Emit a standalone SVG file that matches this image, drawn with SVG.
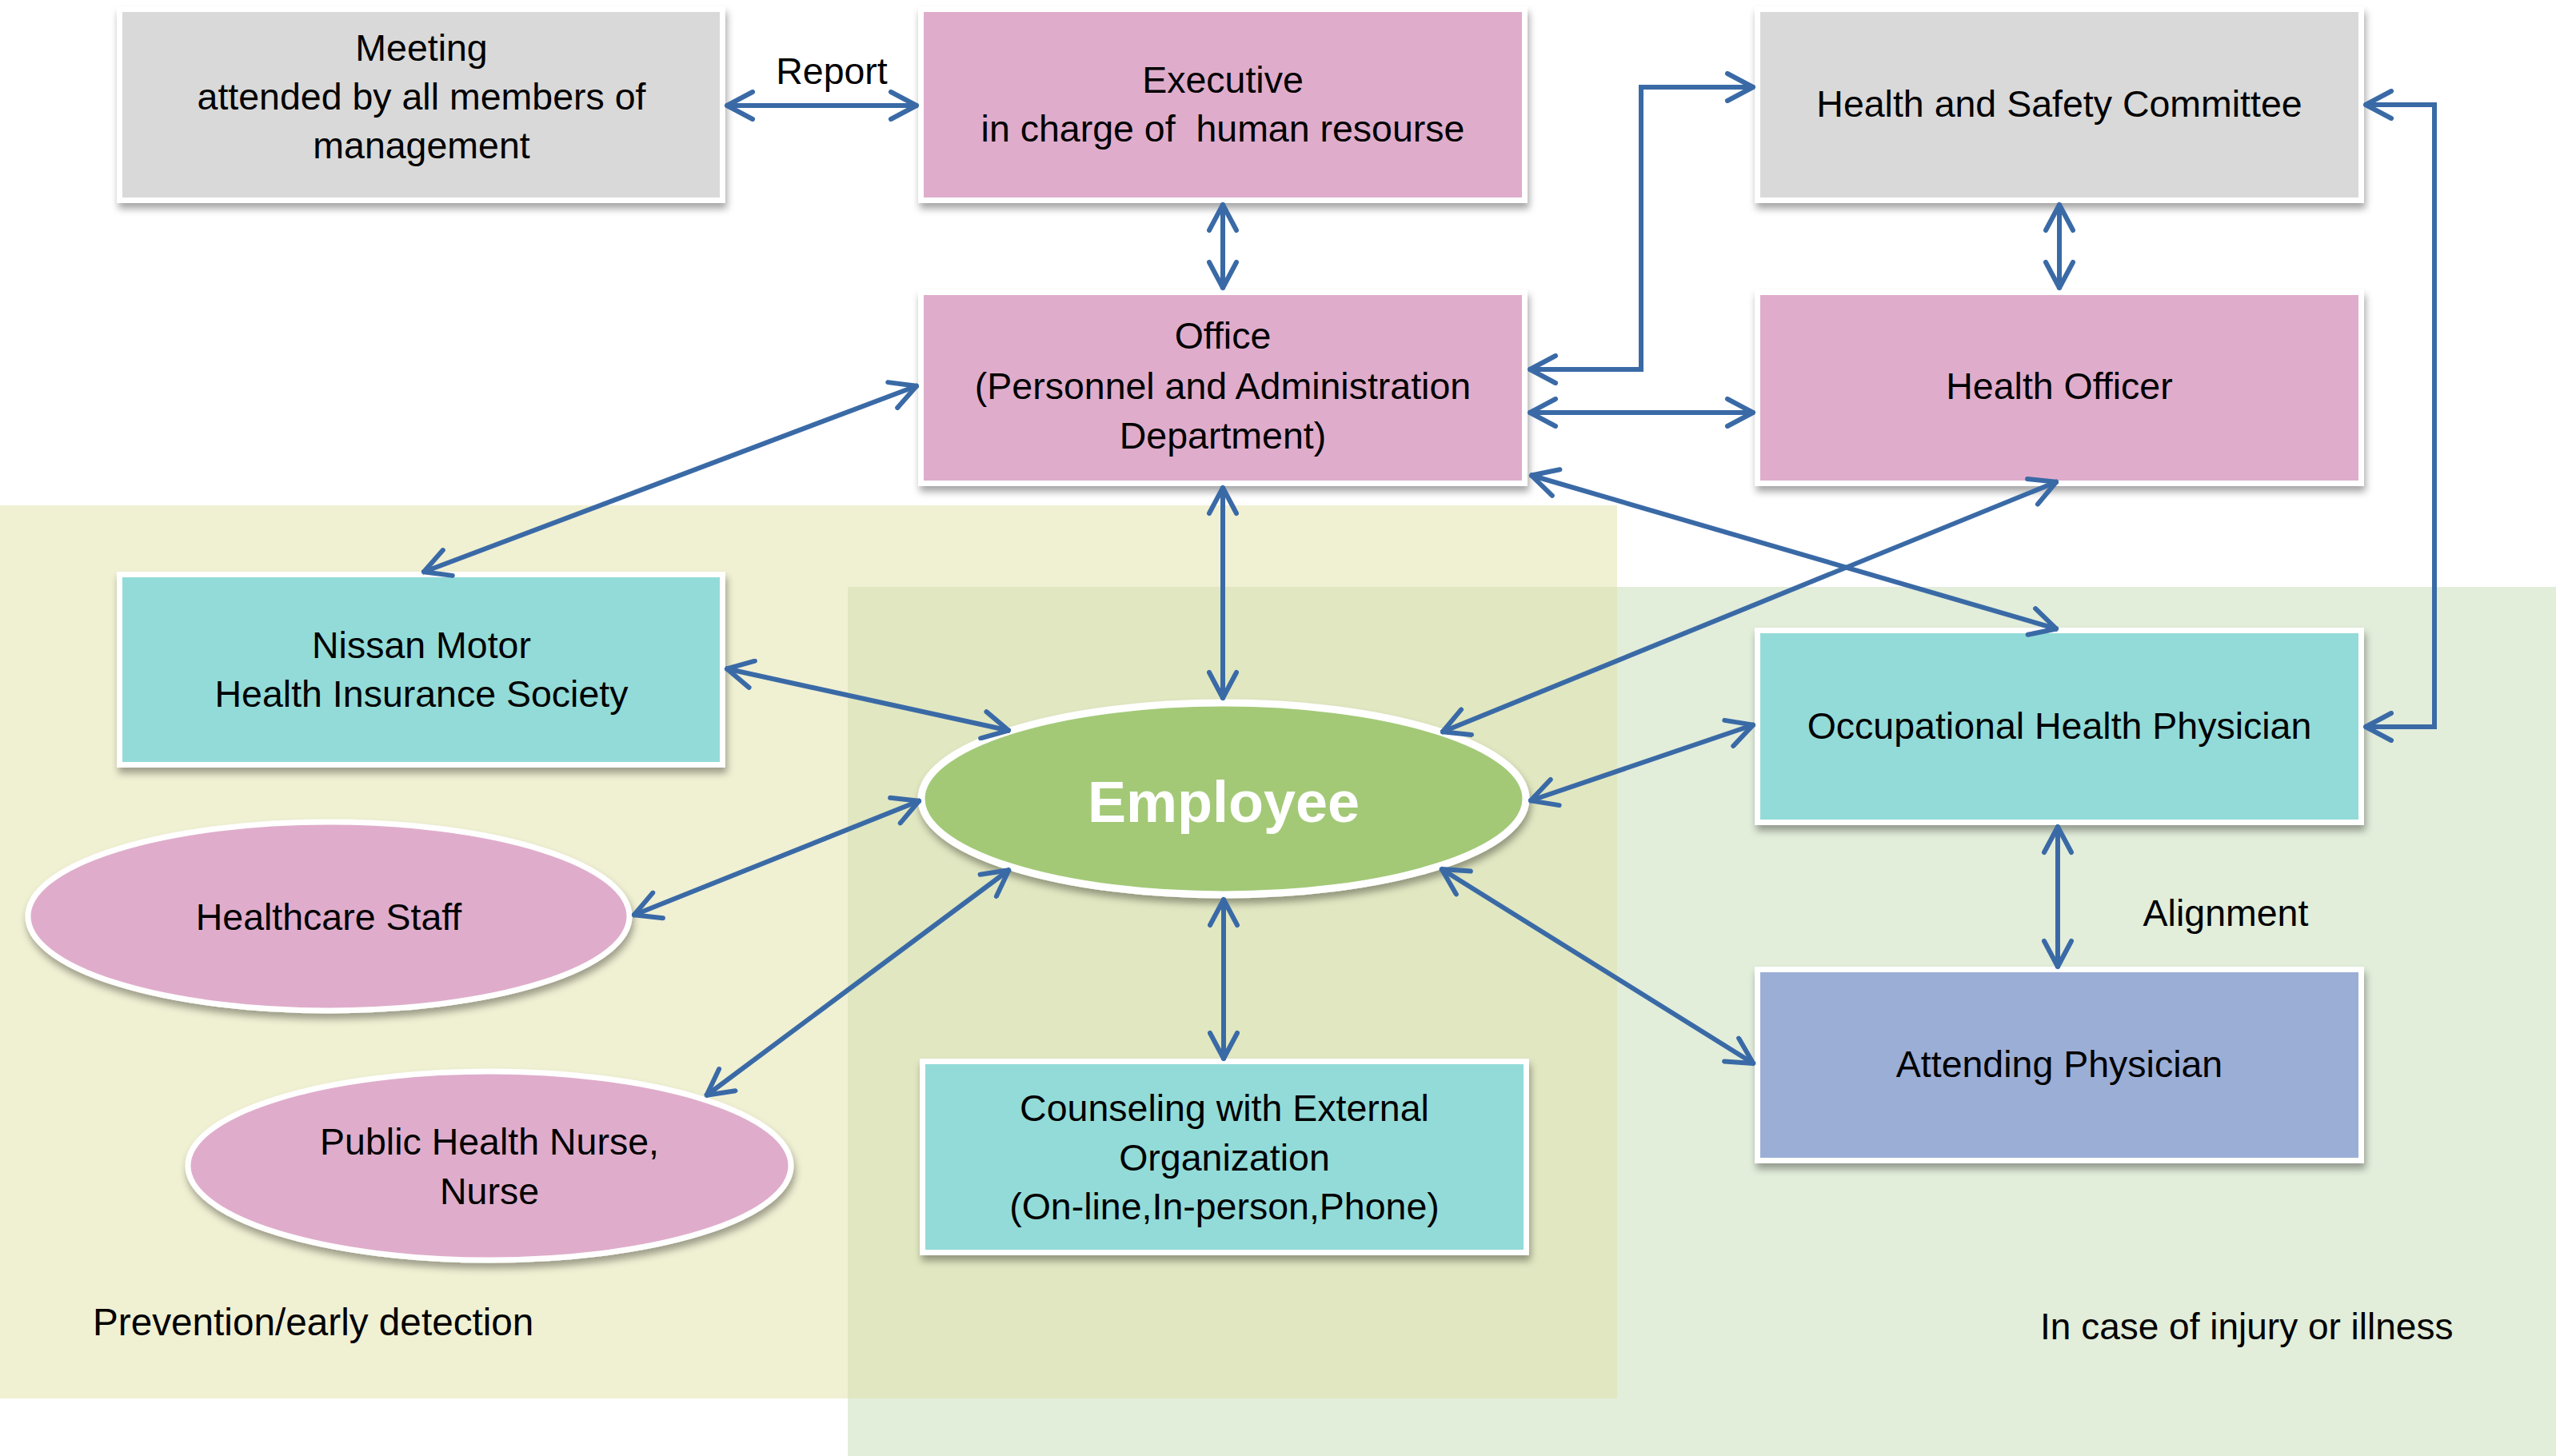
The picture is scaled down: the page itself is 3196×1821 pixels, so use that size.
<svg xmlns="http://www.w3.org/2000/svg" width="3196" height="1821" viewBox="0 0 3196 1821">
<style>
.t{font-family:"Liberation Sans",Arial,sans-serif;font-size:46.5px;fill:#000;text-anchor:middle}
.tl{font-family:"Liberation Sans",Arial,sans-serif;fill:#000}
.box{stroke:#fff;stroke-width:7}
.pink{fill:#DFADCB}
.grey{fill:#D9D9D9}
.cyan{fill:#93DBD8}
.blue{fill:#9BAED6}
.con{fill:none;stroke:#3A6AA6;stroke-width:6;stroke-linejoin:miter;marker-start:url(#ah);marker-end:url(#ah)}
</style>
<defs>
<filter id="sh" x="-10%" y="-10%" width="120%" height="130%">
<feDropShadow dx="2" dy="7" stdDeviation="5" flood-color="#000" flood-opacity="0.35"/>
</filter>
<marker id="ah" viewBox="0 0 40 40" markerWidth="40" markerHeight="40" refX="38" refY="20" orient="auto-start-reverse" markerUnits="userSpaceOnUse">
<path d="M4,3 L36,20 L4,37" fill="none" stroke="#3A6AA6" stroke-width="6" stroke-linecap="round" stroke-linejoin="round"/>
</marker>
</defs>
<rect x="0" y="0" width="3196" height="1821" fill="#fff"/>
<g id="regions">
<rect x="0" y="632" width="2022" height="1117" fill="#F0F0D3"/>
<rect x="1060" y="734" width="2136" height="1087" fill="#E2EDDA"/>
<rect x="1060" y="734" width="962" height="1015" fill="#E1E7C1"/>
<text class="tl" x="116" y="1670" style="font-size:47.7px">Prevention/early detection</text>
<text class="tl" x="2551" y="1675" style="font-size:46px">In case of injury or illness</text>
</g>
<g id="meeting">
<rect class="box grey" x="149.5" y="11.5" width="754" height="239" filter="url(#sh)"/>
<text class="t" x="527" y="76">Meeting</text>
<text class="t" x="527" y="137">attended by all members of</text>
<text class="t" x="527" y="198">management</text>
</g>
<g id="executive">
<rect class="box pink" x="1151.5" y="11.5" width="755" height="239" filter="url(#sh)"/>
<text class="t" x="1529" y="116">Executive</text>
<text class="t" x="1529" y="177" xml:space="preserve">in charge of  human resourse</text>
</g>
<g id="hsc">
<rect class="box grey" x="2197.5" y="11.5" width="755" height="239" filter="url(#sh)"/>
<text class="t" x="2575" y="146">Health and Safety Committee</text>
</g>
<g id="office">
<rect class="box pink" x="1151.5" y="365.5" width="755" height="239" filter="url(#sh)"/>
<text class="t" x="1529" y="436">Office</text>
<text class="t" x="1529" y="499">(Personnel and Administration</text>
<text class="t" x="1529" y="561">Department)</text>
</g>
<g id="healthofficer">
<rect class="box pink" x="2197.5" y="365.5" width="755" height="239" filter="url(#sh)"/>
<text class="t" x="2575" y="499">Health Officer</text>
</g>
<g id="nissan">
<rect class="box cyan" x="149.5" y="718.5" width="754" height="238" filter="url(#sh)"/>
<text class="t" x="527" y="823">Nissan Motor</text>
<text class="t" x="527" y="884">Health Insurance Society</text>
</g>
<g id="healthcare">
<ellipse class="box pink" cx="411" cy="1146" rx="376" ry="118" filter="url(#sh)"/>
<text class="t" x="411" y="1163">Healthcare Staff</text>
</g>
<g id="nurse">
<ellipse class="box pink" cx="612" cy="1458" rx="377" ry="118" filter="url(#sh)"/>
<text class="t" x="612" y="1444">Public Health Nurse,</text>
<text class="t" x="612" y="1506">Nurse</text>
</g>
<g id="employee">
<ellipse cx="1530" cy="999" rx="378" ry="120" fill="#A3C977" stroke="#fff" stroke-width="9" filter="url(#sh)"/>
<text x="1530" y="1028" text-anchor="middle" font-family="Liberation Sans,Arial,sans-serif" font-size="72" font-weight="bold" fill="#fff">Employee</text>
</g>
<g id="counseling">
<rect class="box cyan" x="1153.5" y="1327.5" width="755" height="239" filter="url(#sh)"/>
<text class="t" x="1531" y="1402">Counseling with External</text>
<text class="t" x="1531" y="1464">Organization</text>
<text class="t" x="1531" y="1525">(On-line,In-person,Phone)</text>
</g>
<g id="ohp">
<rect class="box cyan" x="2197.5" y="788.5" width="755" height="240" filter="url(#sh)"/>
<text class="t" x="2575" y="924">Occupational Health Physician</text>
</g>
<g id="attending">
<rect class="box blue" x="2197.5" y="1212.5" width="755" height="239" filter="url(#sh)"/>
<text class="t" x="2575" y="1347">Attending Physician</text>
</g>
<g id="connectors">
<path class="con" d="M907,132 L1148,132"/>
<path class="con" d="M1529,254 L1529,362"/>
<path class="con" d="M1911,462 L2052,462 L2052,109 L2194,109"/>
<path class="con" d="M1911,516 L2194,516"/>
<path class="con" d="M2575,254 L2575,362"/>
<path class="con" d="M2956,131 L3044,131 L3044,909 L2956,909"/>
<path class="con" d="M1148,482 L528,716"/>
<path class="con" d="M1529,608 L1529,875"/>
<path class="con" d="M1913,594 L2573,787"/>
<path class="con" d="M2573,602 L1802,916"/>
<path class="con" d="M907,836 L1263,914"/>
<path class="con" d="M791,1145 L1151,1001"/>
<path class="con" d="M882,1371 L1263,1087"/>
<path class="con" d="M1530,1123 L1530,1326"/>
<path class="con" d="M1912,1002 L2194,906"/>
<path class="con" d="M1801,1086 L2194,1331"/>
<path class="con" d="M2573,1032 L2573,1211"/>
<text class="t" x="1040" y="105">Report</text>
<text class="t" x="2783" y="1158">Alignment</text>
</g>
</svg>
